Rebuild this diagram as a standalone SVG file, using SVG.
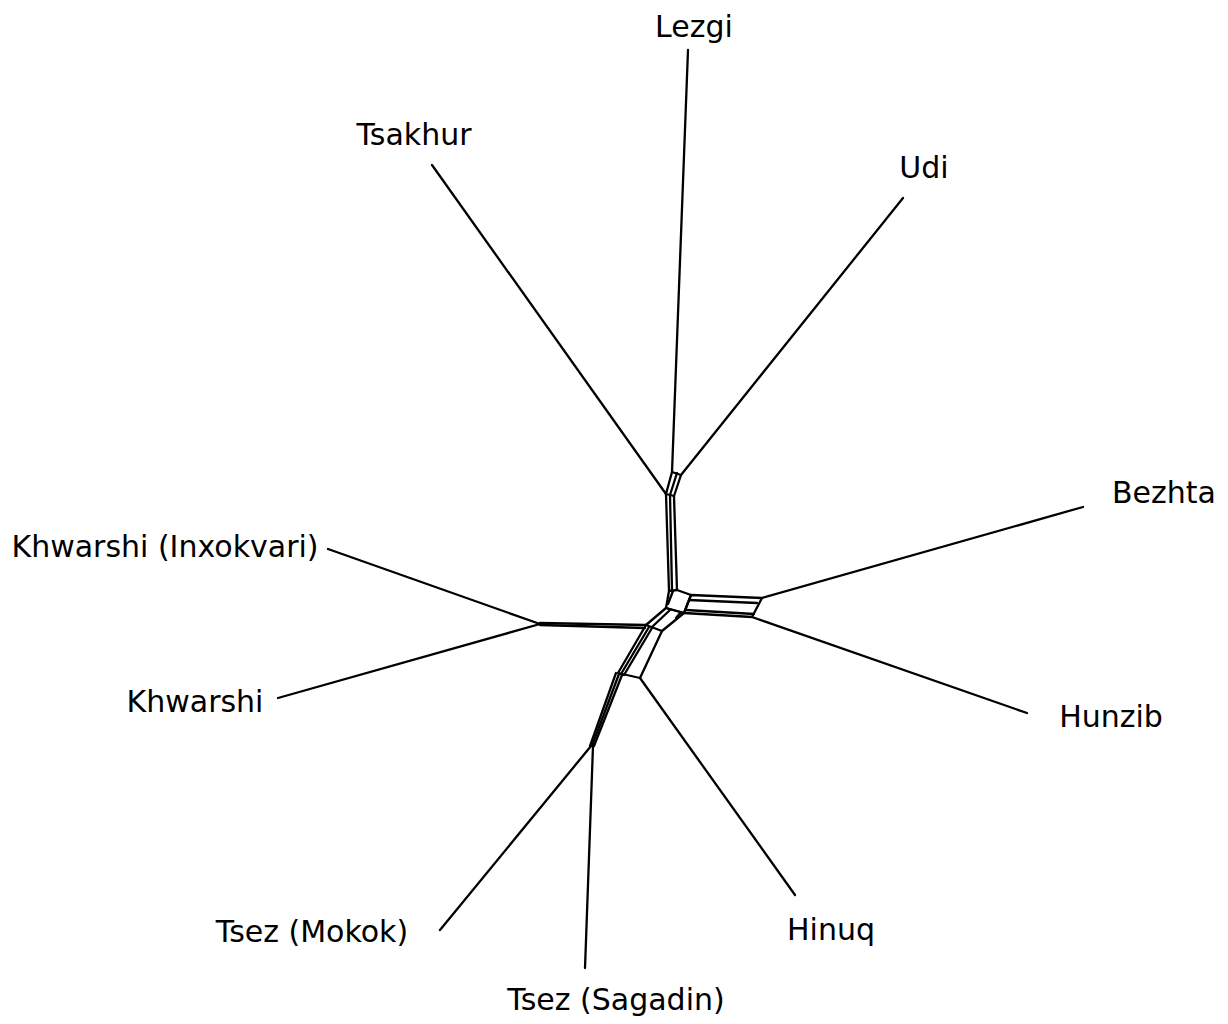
<svg xmlns="http://www.w3.org/2000/svg" width="1228" height="1024" viewBox="0 0 1228 1024">
<style>
.lbl{font-family:"DejaVu Sans",Verdana,sans-serif;font-size:30px;fill:#000;text-anchor:middle}
.e{stroke:#000;stroke-width:2.3;fill:none;stroke-linecap:round;stroke-linejoin:round}
</style>
<rect width="1228" height="1024" fill="#fff"/>
<g id="connectors" class="e">
<line x1="688" y1="50" x2="672" y2="472"/>
<line x1="432" y1="165" x2="666" y2="494"/>
<line x1="903" y1="198" x2="681" y2="475"/>
<line x1="1083" y1="507" x2="762" y2="598"/>
<line x1="1027" y1="713" x2="752" y2="617"/>
<line x1="795" y1="895" x2="640" y2="678"/>
<line x1="585" y1="968" x2="593" y2="746"/>
<line x1="440" y1="930" x2="591" y2="746"/>
<line x1="278" y1="698" x2="540" y2="624"/>
<line x1="328" y1="549" x2="540" y2="624"/>
<polygon points="672,472 681,475 674,496 666,494"/>
<line x1="677" y1="473" x2="670" y2="495"/>
<line x1="666" y1="494" x2="669" y2="591"/>
<line x1="670" y1="495" x2="672" y2="590"/>
<line x1="674" y1="496" x2="677" y2="590"/>
<polygon points="691,595 762,598 752,617 684,613"/>
<line x1="689" y1="600" x2="757" y2="603"/>
<line x1="686" y1="610" x2="754" y2="614"/>
<polygon points="669,591 677,590 691,595 684,613 666,608"/>
<line x1="673" y1="591" x2="668" y2="604"/>
<polygon points="666,608 684,613 662,631 646,625"/>
<line x1="670" y1="610" x2="652" y2="627"/>
<line x1="681" y1="612" x2="676" y2="618"/>
<line x1="540" y1="623" x2="646" y2="625"/>
<line x1="540" y1="625" x2="645" y2="628"/>
<line x1="646" y1="625" x2="618" y2="673"/>
<line x1="649" y1="627" x2="621" y2="674"/>
<line x1="652" y1="628" x2="624" y2="675"/>
<line x1="662" y1="631" x2="640" y2="678"/>
<line x1="618" y1="673" x2="640" y2="678"/>
<line x1="616" y1="673" x2="590" y2="746"/>
<line x1="619" y1="674" x2="592" y2="746"/>
<line x1="622" y1="675" x2="594" y2="746"/>
</g>
<g id="n-lezgi"><text class="lbl" x="694" y="37">Lezgi</text></g>
<g id="n-tsakhur"><text class="lbl" x="414" y="145">Tsakhur</text></g>
<g id="n-udi"><text class="lbl" x="924" y="178">Udi</text></g>
<g id="n-bezhta"><text class="lbl" x="1164" y="503">Bezhta</text></g>
<g id="n-khwarshi-inx"><text class="lbl" x="165" y="557">Khwarshi (Inxokvari)</text></g>
<g id="n-khwarshi"><text class="lbl" x="195" y="712">Khwarshi</text></g>
<g id="n-hunzib"><text class="lbl" x="1111" y="727">Hunzib</text></g>
<g id="n-hinuq"><text class="lbl" x="831" y="940">Hinuq</text></g>
<g id="n-tsez-mokok"><text class="lbl" x="312" y="942">Tsez (Mokok)</text></g>
<g id="n-tsez-sagadin"><text class="lbl" x="616" y="1010">Tsez (Sagadin)</text></g>
</svg>
